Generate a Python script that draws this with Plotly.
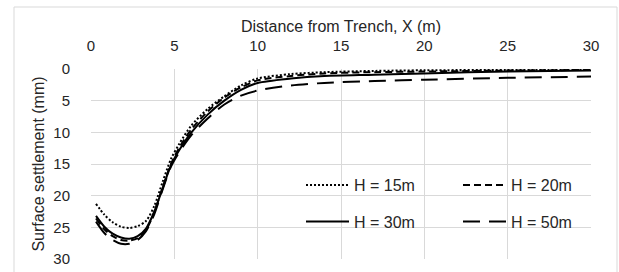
import plotly.graph_objects as go

x_vals = [0.3, 0.8, 1.3, 1.8, 2.3, 2.8, 3.3, 3.8, 4.3, 4.8, 5.3, 6, 7, 8, 9, 10, 12, 14, 17, 20, 25, 30]
h15 = [21.3, 23.0, 24.2, 24.9, 25.1, 24.8, 24.0, 21.6, 17.8, 14.2, 11.8, 9.0, 6.3, 4.3, 2.6, 1.5, 0.8, 0.5, 0.3, 0.2, 0.15, 0.1]
h20 = [23.6, 25.3, 26.4, 27.0, 27.1, 26.7, 25.4, 22.6, 18.7, 15.0, 12.4, 9.6, 6.7, 4.5, 2.9, 1.8, 1.1, 0.7, 0.5, 0.4, 0.25, 0.15]
h30 = [23.2, 24.9, 26.0, 26.6, 26.8, 26.4, 25.2, 22.5, 18.8, 15.2, 12.8, 10.1, 7.2, 5.0, 3.3, 2.2, 1.5, 1.1, 0.9, 0.7, 0.4, 0.25]
h50 = [24.1, 25.9, 27.0, 27.6, 27.6, 27.0, 25.6, 22.9, 19.0, 15.4, 13.1, 10.5, 7.8, 5.6, 4.2, 3.4, 2.6, 2.2, 1.9, 1.7, 1.4, 1.2]

series = [
    ("H = 15m", h15, "2px,2px", "legend"),
    ("H = 20m", h20, "7px,4px", "legend"),
    ("H = 30m", h30, "solid", "legend2"),
    ("H = 50m", h50, "17px,9px", "legend2"),
]

FONT = "Liberation Sans, Arial, sans-serif"
fig = go.Figure()
for name, ys, dash, lg in series:
    fig.add_trace(go.Scatter(
        x=x_vals, y=ys, mode="lines", name=name, legend=lg,
        line=dict(color="black", width=2, dash=dash, shape="spline", smoothing=0.8),
    ))

W, H = 619, 272
L, R, T, B = 91, 28, 69, 13
pw, ph = W - L - R, H - T - B

def px2x(px):
    return (px - L) / pw

def py2y(py):
    return (H - B - py) / ph

legend_common = dict(orientation="h", xanchor="left", yanchor="middle",
                     entrywidth=99, entrywidthmode="pixels", bgcolor="rgba(0,0,0,0)",
                     font=dict(size=16, color="#262626"), itemwidth=43, borderwidth=0)

fig.update_layout(
    width=W, height=H,
    margin=dict(l=L, r=R, t=T, b=B, pad=0, autoexpand=False),
    paper_bgcolor="white", plot_bgcolor="white",
    font=dict(family=FONT, size=15, color="#262626"),
    showlegend=True,
    legend=dict(x=px2x(301), y=py2y(185), **legend_common),
    legend2=dict(x=px2x(301), y=py2y(221.7), **legend_common),
    xaxis=dict(
        range=[0, 30], side="top", dtick=5, tick0=0, automargin=False,
        showgrid=True, gridcolor="#d9d9d9", gridwidth=1,
        zeroline=False, showline=False, ticks="", ticklabelstandoff=14,
        title=dict(text="Distance from Trench, X (m)", standoff=0, font=dict(size=16)),
        tickfont=dict(size=15),
    ),
    yaxis=dict(
        range=[30, 0], dtick=5, tick0=0, automargin=False,
        showgrid=True, gridcolor="#d9d9d9", gridwidth=1,
        zeroline=False, showline=False, ticks="", ticklabelstandoff=20,
        title=dict(text="Surface settlement (mm)", standoff=4, font=dict(size=16)),
        tickfont=dict(size=15),
    ),
    shapes=[dict(type="rect", xref="paper", yref="paper",
                 x0=px2x(14), x1=px2x(617), y0=py2y(280), y1=py2y(7),
                 line=dict(color="#d9d9d9", width=1), fillcolor="rgba(0,0,0,0)", layer="below")],
)

fig.write_html("out.html", config={"displayModeBar": False},
               post_script="document.body.style.margin='0';document.body.style.overflow='hidden';")
